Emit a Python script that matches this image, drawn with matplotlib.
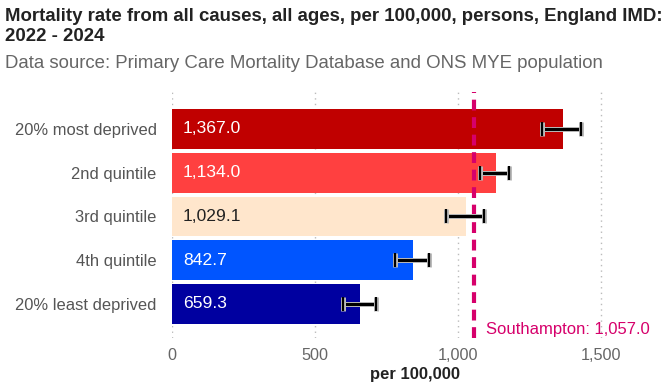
import numpy as np
import matplotlib.pyplot as plt
import matplotlib.patheffects as pe

# data
CATS = ["20% most deprived", "2nd quintile", "3rd quintile", "4th quintile", "20% least deprived"]
VALUES = [1367.0, 1134.0, 1029.1, 842.7, 659.3]
CI_LOW = [1293, 1079, 960, 780, 598]
CI_HIGH = [1432, 1178, 1092, 900, 713]
COLORS = ["#c00000", "#ff4040", "#ffe6cc", "#0055ff", "#0000a0"]
LABEL_COLORS = ["white", "white", "#222222", "white", "white"]
BENCH = 1057.0
BENCH_NAME = "Southampton"
XTICKS = [0, 500, 1000, 1500]

PINK = "#d6006b"
GRAYTXT = "#666666"

plt.rcParams["font.family"] = ["Liberation Sans", "DejaVu Sans"]

fig = plt.figure(figsize=(6.72, 3.88), dpi=100)
W, H = 672, 388
x0, x1 = 172, 658
y_top, y_bot = 92, 338
ax = fig.add_axes([x0 / W, 1 - y_bot / H, (x1 - x0) / W, (y_bot - y_top) / H])

y = np.arange(len(CATS))
ax.barh(y, VALUES, height=0.91, color=COLORS, zorder=2)

err = [np.array(VALUES) - np.array(CI_LOW), np.array(CI_HIGH) - np.array(VALUES)]
eb = ax.errorbar(VALUES, y, xerr=err, fmt="none", ecolor="black", elinewidth=2.2,
                 capsize=5, capthick=1.6, zorder=4)
for art in list(eb.lines[1]) + list(eb.lines[2]):
    art.set_path_effects([pe.Stroke(linewidth=3.6, foreground="#bbbbbb"), pe.Normal()])

for yi, v, c in zip(y, VALUES, LABEL_COLORS):
    ax.text(38, yi, f"{v:,.1f}", color=c, fontsize=12.6, va="center", ha="left", zorder=5)

ax.axvline(BENCH, color=PINK, linewidth=3, linestyle=(0, (2.6, 1.6)), zorder=3)
ax.text(BENCH + 40, 4.58, f"{BENCH_NAME}: {BENCH:,.1f}", color=PINK, fontsize=12,
        va="center", ha="left", zorder=5)

ax.set_xlim(0, 1700)
ax.set_ylim(4.78, -0.846)
ax.set_yticks(y)
ax.set_yticklabels(CATS, fontsize=11.9, color="#555555")
ax.set_xticks(XTICKS)
ax.set_xticklabels([f"{t:,}" for t in XTICKS], fontsize=11.7, color=GRAYTXT)
ax.tick_params(length=0, pad=7)
ax.tick_params(axis="y", pad=11)
ax.grid(True, axis="x", color="#bbbbbb", linestyle=(0, (1, 3)), linewidth=1, zorder=0)
for s in ax.spines.values():
    s.set_visible(False)
ax.set_xlabel("per 100,000", fontsize=12, fontweight="bold", color="#222222", labelpad=3)

fig.text(5 / W, 1 - 8 / H, "Mortality rate from all causes, all ages, per 100,000, persons, England IMD:\n2022 - 2024",
         fontsize=13.4, fontweight="bold", color="#222222", va="top", ha="left", linespacing=1.25)
fig.text(5 / W, 1 - 55 / H, "Data source: Primary Care Mortality Database and ONS MYE population",
         fontsize=13.4, color=GRAYTXT, va="top", ha="left")

fig.savefig("out.png", dpi=100, facecolor="white")
